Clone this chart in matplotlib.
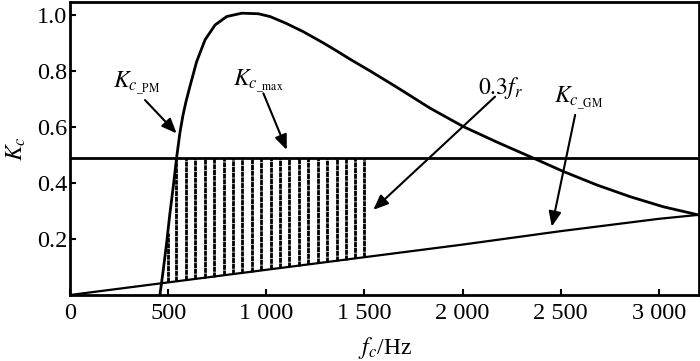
import numpy as np
import matplotlib
matplotlib.use("Agg")
import matplotlib.pyplot as plt

plt.rcParams["font.family"] = ["Liberation Serif", "DejaVu Serif"]
plt.rcParams["mathtext.fontset"] = "stix"

# Kc_PM curve
pm_f = [458, 475, 492, 509, 526, 543, 560, 575, 590, 611, 645, 688, 739, 798, 875,
        959, 1019, 1100, 1188, 1290, 1359, 1426, 1528, 1664, 1834, 2004, 2174,
        2343, 2513, 2683, 2853, 3022, 3200]
pm_k = [0.0, 0.089, 0.185, 0.292, 0.387, 0.49, 0.58, 0.64, 0.688, 0.745, 0.833,
        0.911, 0.964, 0.994, 1.006, 1.004, 0.994, 0.970, 0.940, 0.900, 0.871,
        0.842, 0.800, 0.742, 0.667, 0.601, 0.546, 0.494, 0.441, 0.393, 0.351,
        0.315, 0.286]

# Kc_GM line
gm_f = [0, 500, 1000, 1500, 2000, 2500, 3000, 3200]
gm_k = [0.0, 0.045, 0.09, 0.135, 0.18, 0.228, 0.272, 0.286]

kc_max = 0.49

# hatch positions inside the allowed region (up to 0.3 f_r = 1500 Hz)
hatch_f = [498, 542, 590, 638, 686, 734, 782, 830, 878, 926, 974, 1022, 1070,
           1118, 1166, 1214, 1262, 1310, 1358, 1406, 1454, 1500]

x_ticks = [0, 500, 1000, 1500, 2000, 2500, 3000]
x_labels = ["0", "500", "1 000", "1 500", "2 000", "2 500", "3 000"]
y_ticks = [0.2, 0.4, 0.6, 0.8, 1.0]
y_labels = ["0.2", "0.4", "0.6", "0.8", "1.0"]

fig = plt.figure(figsize=(7, 3.61), dpi=100)
ax = fig.add_axes([0.1, 0.1828, 0.8986, 0.8117])

# hatched region
peak = int(np.argmax(pm_k))
rise_f = pm_f[:peak + 1]
rise_k = pm_k[:peak + 1]
for f in hatch_f:
    lo = np.interp(f, gm_f, gm_k)
    hi = min(kc_max, np.interp(f, rise_f, rise_k))
    ax.plot([f, f], [lo, hi], color="black", lw=2.0, linestyle=(0, (1.8, 0.25)),
            solid_capstyle="butt")

ax.plot(pm_f, pm_k, color="black", lw=2.0)
ax.plot(gm_f, gm_k, color="black", lw=1.6)
ax.axhline(kc_max, color="black", lw=2.0)

ax.set_xlim(0, 3204)
ax.set_ylim(0, 1.046)
ax.set_xticks(x_ticks)
ax.set_xticklabels(x_labels)
ax.set_yticks(y_ticks)
ax.set_yticklabels(y_labels)
ax.tick_params(direction="in", length=4, width=1.5, labelsize=17.5)
ax.tick_params(axis="x", pad=6)
ax.tick_params(axis="y", pad=2)
for spine in ax.spines.values():
    spine.set_linewidth(2.0)

ax.set_xlabel(r"$f_c$/Hz", fontsize=17)
ax.xaxis.set_label_coords(0.5, -0.135)
ax.set_ylabel(r"$K_c$", fontsize=17)
ax.yaxis.set_label_coords(-0.066, 0.5)

arrow = dict(arrowstyle="-|>,head_length=0.6,head_width=0.25", mutation_scale=15,
             color="black", lw=1.5, shrinkA=0, shrinkB=0)

labels = [
    (r"$K_{c_{\_\mathrm{PM}}}$", (340, 0.755), (382, 0.696), (543, 0.577)),
    (r"$K_{c_{\_\mathrm{max}}}$", (960, 0.763), (985, 0.720), (1104, 0.518)),
    (r"$0.3f_r$", (2190, 0.7375), (2165, 0.708), (1545, 0.304)),
    (r"$K_{c_{\_\mathrm{GM}}}$", (2590, 0.703), (2573, 0.643), (2454, 0.244)),
]
for text, pos, tail, head in labels:
    ax.text(pos[0], pos[1], text, fontsize=17, ha="center", va="center")
    ax.annotate("", xy=head, xytext=tail, arrowprops=arrow)

fig.savefig("out.png", dpi=100)
